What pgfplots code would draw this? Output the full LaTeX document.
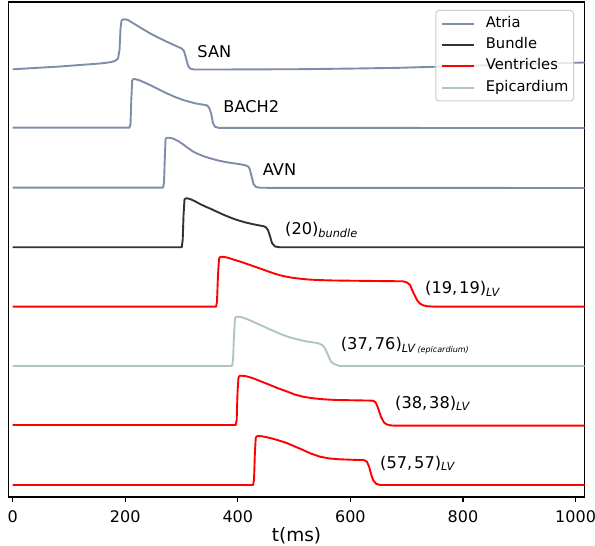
\documentclass[border=0pt]{standalone}
\usepackage{fontspec}
\setmainfont{DejaVu Sans}
\usepackage{pgfplots}
\pgfplotsset{compat=1.18}
\definecolor{atria}{HTML}{7F8CAA}
\definecolor{bundlec}{HTML}{333333}
\definecolor{ventr}{HTML}{FF0000}
\definecolor{epi}{HTML}{AFC4C6}
\definecolor{legframe}{HTML}{CCCCCC}
\newcommand{\lab}{\fontsize{16.2bp}{19bp}\selectfont}
\newcommand{\sub}[1]{\raisebox{-2.5bp}{\fontsize{11.3bp}{13bp}\selectfont\itshape #1}}
\newcommand{\subsub}[1]{\raisebox{-2.5bp}{\fontsize{8bp}{10bp}\selectfont\itshape #1}}
\begin{document}
\begin{tikzpicture}
\path[use as bounding box] (-8.4bp,-49bp) rectangle (586.6bp,497bp);
\begin{axis}[
  at={(0,0)}, anchor=south west,
  scale only axis, width=576.2bp, height=495bp,
  xmin=-7.5, xmax=1016, ymin=-497, ymax=-2,
  xtick={0,200,400,600,800,1000},
  xticklabels={0,200,400,600,800,1000},
  ytick=\empty,
  xtick pos=left,
  tick align=outside, major tick length=5bp,
  xtick style={line width=1.1bp, black},
  axis line style={line width=1.1bp, black},
  xticklabel style={font=\fontsize{16bp}{19bp}\selectfont, anchor=base, inner sep=0pt, yshift=-20.7bp},
  xlabel={t(ms)},
  xlabel style={font=\fontsize{18.5bp}{22bp}\selectfont, at={(axis description cs:0.5,0)}, anchor=base, inner sep=0pt, yshift=-44.7bp},
  legend cell align=left,
  legend style={at={(1,1)}, anchor=north east, xshift=-10.6bp, yshift=-8bp,
    draw=legframe, line width=1bp, rounded corners=3bp,
    fill=white, fill opacity=0.8, draw opacity=1, text opacity=1,
    font=\fontsize{14.7bp}{17bp}\selectfont,
    inner xsep=5bp, inner ysep=6bp, row sep=7.2bp,
    nodes={inner sep=0pt, text height=10.7bp, text depth=3.5bp},
    /tikz/every odd column/.append style={column sep=11bp}},
  legend image code/.code={\draw[#1, line width=1.9bp] (0bp,0bp) -- (32bp,0bp);},
  every axis plot/.append style={line width=1.9bp, line join=round},
]
% SAN (Atria)
\addplot[atria] coordinates {
(0,-69.3) (84.2,-66.5) (155.2,-63.5) (173,-62.3) (181.9,-61) (187.2,-58.5)
(189.9,-50) (191.7,-28) (193.5,-20.5) (195.5,-19.5) (199,-19.3) (205,-20) (214.4,-23.3)
(228,-28) (244,-33.3) (258.3,-37.5) (273.7,-41.7) (288.5,-45.5) (300.4,-48.5)
(304.4,-51) (308,-58) (311.5,-65.5) (315,-68.5) (322.2,-69.5) (368.4,-69.5)
(510,-69.2) (599.3,-68.6) (688.1,-67.8) (759,-66.6) (865,-65) (1016,-62.5)};
\addlegendentry{Atria}
% BACH2
\addplot[atria, forget plot] coordinates {
(0,-127.7) (207.6,-127.7) (209.4,-124) (210.8,-100) (212.4,-80.5) (214,-79.3) (217,-79)
(226.3,-80.5) (244,-85) (258.3,-89) (273.7,-93.3) (288.5,-97) (302.7,-100)
(324,-103.3) (344.8,-105.3) (348.8,-107.5) (352.4,-113) (355.9,-123)
(359.5,-126.8) (366.6,-127.9) (1016,-128)};
% AVN
\addplot[atria, forget plot] coordinates {
(0,-187.7) (267.1,-187.7) (268.9,-183) (270.2,-160) (271.6,-139) (273.3,-138) (276.5,-137.7)
(285,-138.6) (294,-141) (302.7,-144.3) (311.5,-148) (320.4,-151.5) (331,-154.4) (341.7,-156.7)
(352,-158.5) (363,-160.2) (374,-161.6) (386.1,-162.8) (403.9,-164.2) (413,-165.2) (418.5,-166.5)
(420.8,-168.5) (424.3,-176) (427.9,-184) (432.3,-187) (439.4,-187.8) (1016,-188)};
% Bundle
\addplot[bundlec] coordinates {
(0,-247.3) (300.4,-247.3) (302.1,-240) (303.6,-215) (305.3,-199.5) (307,-198.5) (310,-198.3)
(315.1,-199) (323,-201) (332.9,-204) (341,-206.2) (350.6,-208.5) (362,-211.5) (373.7,-214.5)
(386,-217.4) (398.6,-220) (412,-222.2) (425.2,-224) (437,-225.3) (446,-226.3)
(450,-227.3) (453.6,-230) (457.1,-236) (460.7,-243) (466,-246.5) (475,-247.3)
(1016,-247.3)};
\addlegendentry{Bundle}
% LV (19,19)
\addplot[ventr] coordinates {
(0,-306.7) (361.3,-306.7) (363,-302) (364.8,-275) (366.6,-259) (368.3,-257.2) (371,-256.7)
(379,-257.3) (386,-258.4) (395,-260) (408,-262.3) (421.7,-265) (437,-268) (451.9,-271)
(466,-273.8) (480.3,-276) (495,-277.6) (510.5,-278.7) (525,-279.5) (540.7,-280)
(570,-280.5) (599.3,-280.7) (693.4,-281.3) (700.5,-282.5) (705.9,-285)
(711.2,-292) (718.3,-300) (723.4,-303.5) (729,-305.3) (736,-306.2) (750.2,-306.7) (1016,-306.7)};
\addlegendentry{Ventricles}
% Epicardium (37,76)
\addplot[epi] coordinates {
(0,-366) (389.7,-366) (391.5,-360) (393.3,-335) (395,-318.5) (396.8,-317) (400,-316.7)
(405.7,-317) (416,-319) (427,-321.7) (440,-325) (453.6,-328.5) (467,-331.9) (480.3,-335)
(495,-337.8) (510.5,-340) (525,-341.7) (540.7,-343)
(546,-344) (549.6,-345) (552.5,-346.5) (554.9,-348.5) (560.2,-355) (565.5,-361.7) (572.6,-364.5)
(581.5,-366) (1016,-366)};
\addlegendentry{Epicardium}
% LV (38,38)
\addplot[ventr, forget plot] coordinates {
(0,-425) (396.3,-425) (398,-420) (399.5,-392) (401.2,-377.5) (403,-376) (406,-375.7)
(412.8,-376) (421,-377.2) (430.6,-379) (443,-381.8) (457.2,-385) (472,-388.4) (487.4,-391.5)
(501,-394.5) (515.8,-396.7) (531,-398.1) (546,-399) (561,-399.6)
(576.2,-400) (638,-400.6) (642,-401.2) (645.5,-403) (649,-408) (654.4,-417) (659.7,-422.5)
(664,-424.3) (670.3,-425.3) (679.2,-425.7) (1016,-425.7)};
% LV (57,57)
\addplot[ventr, forget plot] coordinates {
(0,-485) (427,-485) (428.8,-480) (430.2,-455) (431.8,-438) (433.5,-436.3) (437,-436)
(443,-436.3) (451,-437.2) (460.8,-438.5) (473,-440.5) (486.9,-443) (501,-446.4) (515.8,-450)
(530,-453.6) (546,-456.7) (563,-458.5) (581.5,-459.3) (605,-459.8)
(623,-460) (626.5,-460.7) (629.5,-462) (633.2,-466.7) (636.7,-474) (640.3,-480) (645.6,-483.7)
(652.7,-485) (1016,-485)};
\node[anchor=base west, inner sep=0pt, font=\lab] at (axis cs:328,-57.3) {SAN};
\node[anchor=base west, inner sep=0pt, font=\lab] at (axis cs:374.2,-112.7) {BACH2};
\node[anchor=base west, inner sep=0pt, font=\lab] at (axis cs:444.2,-176) {AVN};
\node[anchor=base west, inner sep=0pt, font=\lab] at (axis cs:483.8,-235) {(20)\sub{bundle}};
\node[anchor=base west, inner sep=0pt, font=\lab] at (axis cs:732.5,-294) {(19,\kern0.12em 19)\sub{LV}};
\node[anchor=base west, inner sep=0pt, font=\lab] at (axis cs:582.8,-350) {(37,\kern0.12em 76)\sub{LV}\kern2.5bp\subsub{(epicardium)}};
\node[anchor=base west, inner sep=0pt, font=\lab] at (axis cs:679.2,-408.3) {(38,\kern0.12em 38)\sub{LV}};
\node[anchor=base west, inner sep=0pt, font=\lab] at (axis cs:652.6,-468.3) {(57,\kern0.12em 57)\sub{LV}};
\end{axis}
\end{tikzpicture}
\end{document}
